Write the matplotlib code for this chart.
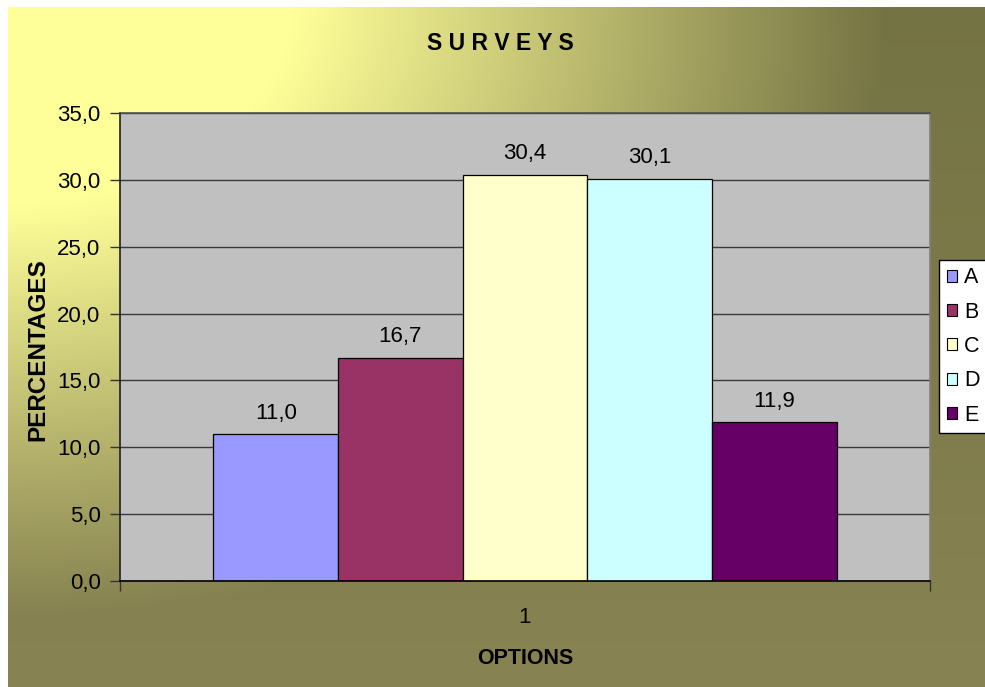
import numpy as np
import matplotlib
matplotlib.use("Agg")
import matplotlib.pyplot as plt
from matplotlib.patches import Patch
from matplotlib.colors import to_rgb

plt.rcParams['font.family'] = ['Liberation Sans', 'DejaVu Sans']

# Survey data
categories = ["A", "B", "C", "D", "E"]
values = [11.0, 16.7, 30.4, 30.1, 11.9]
bar_colors = ["#9999FF", "#993366", "#FFFFCC", "#CCFFFF", "#660066"]
y_ticks = [0, 5, 10, 15, 20, 25, 30, 35]
group_label = "1"

W, H = 985, 687
fig = plt.figure(figsize=(W / 100, H / 100), dpi=100)
fig.patch.set_facecolor("white")

# Yellow-to-olive gradient radiating from the top-left corner
bg = fig.add_axes([8 / W, 0, (W - 8) / W, (H - 7) / H], zorder=-10)
gy, gx = np.mgrid[0:240, 0:360]
xn = (8 + gx / 359 * (W - 8)) / W
yn = (7 + gy / 239 * (H - 7)) / H
r = np.sqrt(xn ** 2 + yn ** 2)
t = np.clip((r - 0.3) / 0.6, 0, 1)[..., None]
c0 = np.array(to_rgb("#FFFF99"))
c_top = np.array(to_rgb("#747343"))
c_bot = np.array(to_rgb("#888352"))
c1 = c_top * (1 - yn[..., None]) + c_bot * yn[..., None]
img = c0 * (1 - t) + c1 * t
bg.imshow(img, aspect="auto", interpolation="bilinear", extent=[0, 1, 1, 0])
bg.set_axis_off()

# Plot area
ax = fig.add_axes([120 / W, (H - 581) / H, 810 / W, 468 / H])
ax.set_facecolor("#C0C0C0")

n = len(values)
gap = 1.5
w = 1 / (n + gap)
positions = [1 + (i - (n - 1) / 2) * w for i in range(n)]
bars = ax.bar(positions, values, width=w, color=bar_colors,
              edgecolor="black", linewidth=0.9, zorder=3)

for x, v in zip(positions, values):
    ax.annotate(f"{v:.1f}".replace(".", ","), (x, v), xytext=(0, 11),
                textcoords="offset points", ha="center", va="baseline",
                fontsize=16, color="black", zorder=4)

ax.set_xlim(0.5, 1.5)
ax.set_ylim(0, 35)
ax.set_yticks(y_ticks)
ax.set_yticklabels([f"{v:.1f}".replace(".", ",") for v in y_ticks])
ax.yaxis.grid(True, color="#3a3a3a", linewidth=1.0, zorder=1)
ax.set_axisbelow(True)

ax.set_xticks([1])
ax.set_xticklabels([group_label])
ax.set_xticks([0.5, 1.5], minor=True)
ax.tick_params(axis="x", which="major", length=0, pad=19, labelsize=16)
ax.tick_params(axis="x", which="minor", length=7, width=1, color="#333333", direction="out")
ax.tick_params(axis="y", length=7, width=1, color="#333333", direction="out",
               pad=7, labelsize=16)

for side, col in [("left", "#202020"), ("bottom", "#000000"),
                  ("top", "#505050"), ("right", "#808080")]:
    ax.spines[side].set_color(col)
    ax.spines[side].set_linewidth(1.2)
    ax.spines[side].set_zorder(5)

ax.set_ylabel("PERCENTAGES", fontsize=17.5, fontweight="bold")
ax.yaxis.set_label_coords((38 - 120) / 810, (581 - 350) / 468)
ax.yaxis.label.set_va("center")
ax.set_xlabel("OPTIONS", fontsize=15.5, fontweight="bold")
ax.xaxis.set_label_coords(0.5, (581 - 658) / 468)
ax.xaxis.label.set_va("center")

fig.suptitle("S U R V E Y S", x=500 / W, y=1 - 44 / H, va="center",
             fontsize=16.5, fontweight="bold")

handles = [Patch(facecolor=c, edgecolor="black", linewidth=0.8) for c in bar_colors]
leg = fig.legend(handles, categories, loc="center left",
                 bbox_to_anchor=(939 / W, 1 - 346.5 / H), fontsize=15.5,
                 frameon=True, fancybox=False, framealpha=1, edgecolor="black",
                 borderaxespad=0, borderpad=0.35, handlelength=0.5,
                 handleheight=0.5, handletextpad=0.3, labelspacing=0.62)
leg.get_frame().set_linewidth(1.0)
leg.get_frame().set_facecolor("white")

fig.savefig("out.png", dpi=100)
